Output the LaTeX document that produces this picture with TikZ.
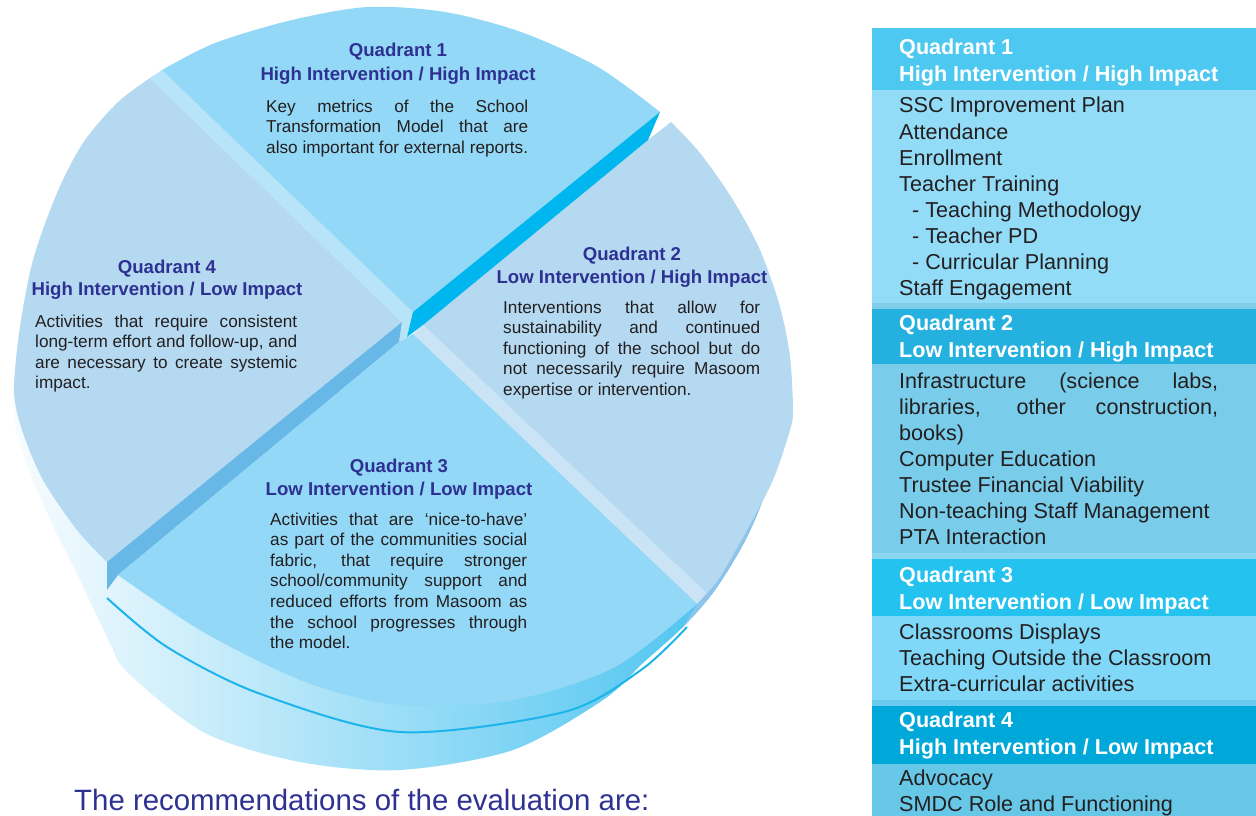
\documentclass[tikz,border=0pt]{standalone}
\usepackage{fontspec}
\setmainfont{Liberation Sans}
\definecolor{qa}{HTML}{93D8F6}
\definecolor{qb}{HTML}{B4D9F1}
\definecolor{bandA}{HTML}{B7E4F8}
\definecolor{bandB}{HTML}{CAE4F6}
\definecolor{bevC}{HTML}{00B6EE}
\definecolor{bevD}{HTML}{67B8E6}
\definecolor{sideD}{HTML}{8FC4EA}
\definecolor{sideL}{HTML}{F8FCFF}
\definecolor{sideM}{HTML}{E2F4FC}
\definecolor{sideR}{HTML}{3DBFEE}
\definecolor{cline}{HTML}{1DB4EB}
\definecolor{navy}{HTML}{2E3192}
\definecolor{ink}{HTML}{231F20}
\definecolor{hA}{HTML}{4DC8F1}
\definecolor{bA}{HTML}{92DCF7}
\definecolor{sA}{HTML}{7FCDE8}
\definecolor{hB}{HTML}{25B1DF}
\definecolor{bB}{HTML}{79CDEA}
\definecolor{sB}{HTML}{8CD5EF}
\definecolor{hC}{HTML}{24C2EF}
\definecolor{bC}{HTML}{7FD8F7}
\definecolor{sC}{HTML}{6ACBEE}
\definecolor{hD}{HTML}{00A8D9}
\definecolor{bD}{HTML}{66C7E7}
\newcommand{\justline}[2]{{\spaceskip=0pt\xspaceskip=0pt\makebox[#1][s]{#2}}}
\tikzset{
  ptitle/.style={anchor=base, inner sep=0pt, font=\bfseries\fontsize{18.6}{22}\selectfont, text=navy},
  pbody/.style={anchor=base west, inner sep=0pt, text width=#1, align=flush left, font=\fontsize{17.2}{20.6}\selectfont, text=ink},
  phead/.style={anchor=base west, inner sep=0pt, text width=350pt, align=flush left, font=\bfseries\fontsize{21.6}{27}\selectfont, text=white},
  pitem/.style={anchor=base west, inner sep=0pt, text width=350pt, align=flush left, font=\fontsize{21.6}{26.1}\selectfont, text=ink},
}
\begin{document}
\begin{tikzpicture}[x=1pt,y=-1pt]
\path[use as bounding box, fill=white] (0,0) rectangle (1256,816);

% ---------- pie: side of the disc ----------
\shade[left color=sideL, middle color=sideM, right color=sideR]
  (785,420) -- plot[smooth] coordinates {(785,420) (770,480) (747,537) (715,590) (683,627) (643,663) (603,700) (513,750) (400,770) (300,762) (205,733) (128,673) (110,643) (88,597) (67,553) (55,530) (33,480) (16,430) (13,385)} -- cycle;
\fill[sideD] (785,420) -- plot[smooth] coordinates {(785,420) (770,480) (747,537) (715,590) (683,627)} -- (700,600) -- (740,540) -- cycle;

% Q4 face
\fill[qb] (402,322) -- (150,78) -- plot[smooth] coordinates {(150,78) (117,103) (83,143) (57,193) (33,260) (20,327) (14,390) (22,430) (43,480) (77,530) (107,562)} -- cycle;
% band between Q1 and Q4
\fill[bandA] (150,78) -- (162,70) -- (413,312) -- (407,337) -- (399,342) -- (402,322) -- cycle;
% Q1 face
\fill[qa] (413,312) -- (162,70) -- plot[smooth] coordinates {(162,70) (215,43) (292,20) (368,7) (445,12) (521,32) (598,67) (660,112)} -- cycle;
% Q2 face
\fill[qb] (423,325) -- (648,140) -- (671,122) -- plot[smooth] coordinates {(671,122) (700,153) (733,200) (760,250) (780,307) (790,357) (793,410) (790,430) (773,480) (747,530) (720,577) (707,593)} -- cycle;
% cyan bevel of Q1
\fill[bevC] (660,112) -- (648,140) -- (423,325) -- (407,337) -- (413,312) -- cycle;
% band between Q2 and Q3
\fill[bandB] (423,325) -- (707,593) -- (697,604) -- (413,334) -- cycle;
% bevel between Q4 and Q3
\fill[bevD] (107,562) -- (402,322) -- (399,342) -- (118,575) -- (107,590) -- cycle;
% Q3 face
\fill[qa] (399,342) -- (413,334) -- (697,604) -- plot[smooth] coordinates {(697,604) (615,667) (513,700) (400,705) (308,683) (205,633) (118,575)} -- cycle;
% cyan line on the side
\draw[cline, line width=2pt] plot[smooth] coordinates {(107,598) (167,647) (258,693) (400,732) (564,712) (641,670) (687,627)};

% ---------- pie texts ----------
\node[ptitle] (q1a) at (398,57) {Quadrant 1};
\node[ptitle] (q1b) at (398,81) {High Intervention / High Impact};
\node[pbody=262pt] (q1c) at (266,112) {\justline{262pt}{Key metrics of the School}\\\justline{262pt}{Transformation Model that are}\\also important for external reports.};

\node[ptitle] (q2a) at (632,260) {Quadrant 2};
\node[ptitle] (q2b) at (632,283) {Low Intervention / High Impact};
\node[pbody=257pt] (q2c) at (503,313) {\justline{257pt}{Interventions that allow for}\\\justline{257pt}{sustainability and continued}\\\justline{257pt}{functioning of the school but do}\\\justline{257pt}{not necessarily require Masoom}\\expertise or intervention.};

\node[ptitle] (q4a) at (167,273) {Quadrant 4};
\node[ptitle] (q4b) at (167,295.5) {High Intervention / Low Impact};
\node[pbody=262pt] (q4c) at (35,327) {\justline{262pt}{Activities that require consistent}\\\justline{262pt}{long-term effort and follow-up, and}\\\justline{262pt}{are necessary to create systemic}\\impact.};

\node[ptitle] (q3a) at (399,472) {Quadrant 3};
\node[ptitle] (q3b) at (399,495.5) {Low Intervention / Low Impact};
\node[pbody=257pt] (q3c) at (270,525) {\justline{257pt}{Activities that are ‘nice-to-have’}\\\justline{257pt}{as part of the communities social}\\\justline{257pt}{fabric, that require stronger}\\\justline{257pt}{school/community support and}\\\justline{257pt}{reduced efforts from Masoom as}\\\justline{257pt}{the school progresses through}\\the model.};

\node[anchor=base west, inner sep=0pt, font=\fontsize{29.4}{34}\selectfont, text=navy] (rec) at (74,810) {The recommendations of the evaluation are:};

% ---------- right panel ----------
\fill[hA] (872,28) rectangle (1256,90);
\fill[bA] (872,90) rectangle (1256,303);
\fill[sA] (872,303) rectangle (1256,309);
\fill[hB] (872,309) rectangle (1256,364);
\fill[bB] (872,364) rectangle (1256,553);
\fill[sB] (872,553) rectangle (1256,559);
\fill[hC] (872,559) rectangle (1256,616);
\fill[bC] (872,616) rectangle (1256,700);
\fill[sC] (872,700) rectangle (1256,706);
\fill[hD] (872,706) rectangle (1256,764);
\fill[bD] (872,764) rectangle (1256,816);

\node[phead] (h1) at (899,55) {Quadrant 1\\High Intervention / High Impact};
\node[pitem] (b1) at (899,113) {SSC Improvement Plan\\Attendance\\Enrollment\\Teacher Training\\\hspace*{13pt}- Teaching Methodology\\\hspace*{13pt}- Teacher PD\\\hspace*{13pt}- Curricular Planning\\Staff Engagement};
\node[phead] (h2) at (899,330) {Quadrant 2\\Low Intervention / High Impact};
\node[pitem] (b2) at (899,388) {\justline{319pt}{Infrastructure (science labs,}\\\justline{319pt}{libraries, other construction,}\\books)\\Computer Education\\Trustee Financial Viability\\Non-teaching Staff Management\\PTA Interaction};
\node[phead] (h3) at (899,582) {Quadrant 3\\Low Intervention / Low Impact};
\node[pitem] (b3) at (899,639) {Classrooms Displays\\Teaching Outside the Classroom\\Extra-curricular activities};
\node[phead] (h4) at (899,727) {Quadrant 4\\High Intervention / Low Impact};
\node[pitem] (b4) at (899,785) {Advocacy\\SMDC Role and Functioning};
\end{tikzpicture}
\end{document}
